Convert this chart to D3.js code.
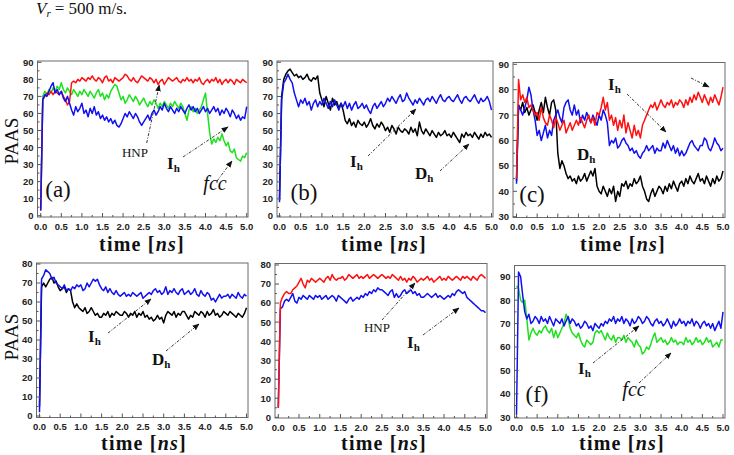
<!DOCTYPE html>
<html><head><meta charset="utf-8">
<script src="https://cdn.jsdelivr.net/npm/d3@7"></script>
<style>
html,body{margin:0;padding:0;background:#fff;}
svg{display:block;}
.serif{font-family:"Liberation Serif","DejaVu Serif",serif;}
.sans{font-family:"Liberation Sans","DejaVu Sans",sans-serif;}
</style></head>
<body>
<svg id="chart" width="734" height="455"></svg>
<script>
// ---------- DATA (sampled every 0.05 ns, t = 0 ... 5.0) ----------
const timeStep = 0.05;
const xTicks = [0,0.5,1,1.5,2,2.5,3,3.5,4,4.5,5];
const xTickLabels = ["0.0","0.5","1.0","1.5","2.0","2.5","3.0","3.5","4.0","4.5","5.0"];

// panel (a)
const aHNP = [3,68,70,72,71,73,71,73,72,71, 73,70,68,65,67,78,79,78,80,79, 81,80,79,81,80,82,80,79,81,80, 78,81,82,79,80,78,81,80,79,80, 81,83,82,80,79,81,79,78,80,82, 81,80,79,81,80,78,80,77,79,80, 77,79,81,80,79,80,81,79,78,80, 79,81,79,80,78,80,79,81,78,77, 79,80,78,80,79,81,78,80,77,79, 80,78,80,79,77,80,79,78,80,79, 78];
const aFcc = [5,70,73,71,74,72,75,73,76,74, 78,74,72,75,73,71,74,72,70,73, 71,74,72,70,73,71,69,72,74,70, 72,68,71,69,73,75,77,76,72,68, 70,66,68,71,69,67,70,68,65,67, 69,66,64,67,65,68,66,63,66,64, 67,65,63,66,64,67,65,63,66,64, 60,56,62,64,61,63,60,62,64,68, 72,60,49,42,45,43,46,44,48,44, 41,43,38,37,39,34,33,32,35,34, 37];
const aIh = [3,68,71,70,73,76,78,72,74,71, 73,69,67,70,66,62,59,64,61,63, 66,60,62,58,63,60,64,59,61,57, 59,56,58,55,57,54,56,53,52,54, 57,60,58,61,59,57,60,58,55,53, 55,57,59,56,60,62,59,61,64,62, 66,63,61,64,62,60,63,61,64,62, 60,63,65,62,64,61,63,60,62,64, 61,63,60,62,64,61,63,59,62,60, 63,61,58,62,60,57,59,56,58,57, 64];
// panel (b)
const bDh = [10,70,80,83,85,86,84,82,83,81, 82,80,81,83,80,79,81,80,82,72, 68,64,70,66,62,69,65,67,63,66, 62,56,54,57,53,55,52,56,54,53, 55,52,54,57,53,51,54,52,55,53, 50,52,49,53,51,48,52,50,49,51, 50,48,52,49,51,47,55,50,48,51, 49,47,50,48,46,49,47,48,50,47, 48,46,49,47,45,43,48,46,49,47, 48,46,49,47,45,48,46,49,47,48, 46];
const bIh = [8,68,78,80,83,80,78,72,68,64, 68,66,69,65,67,62,66,68,64,67, 65,69,66,63,67,64,68,65,62,66, 64,67,63,66,62,65,67,63,64,66, 63,65,62,60,64,66,63,65,67,64, 66,69,67,70,68,66,69,71,67,68, 72,69,67,65,68,66,69,67,65,68, 69,67,70,68,66,69,71,68,67,69, 70,68,67,69,71,68,66,69,70,68, 67,69,71,68,66,69,67,68,70,67, 62];
// panel (c)
const cHNP = [45,84,76,78,75,77,73,74,72,70, 71,68,73,69,67,66,70,68,65,69, 67,64,66,68,63,65,67,64,66,68, 66,69,67,65,68,70,67,69,66,71, 70,73,77,72,75,68,70,66,69,64, 68,65,70,63,67,64,61,66,62,64, 61,66,68,70,72,74,73,75,72,74, 76,74,73,75,74,76,73,75,74,76, 75,73,76,74,77,75,78,76,79,77, 75,78,76,74,77,75,78,76,74,77, 81];
const cIh = [43,74,72,70,73,76,81,78,72,68, 62,64,60,63,66,61,64,62,68,70, 72,69,67,73,75,76,72,70,74,70, 72,67,70,68,71,69,67,70,68,66, 70,68,72,70,67,58,60,59,61,57, 58,60,61,59,58,56,57,55,56,54, 53,55,56,58,56,57,58,55,57,56, 56,59,57,60,58,56,58,55,57,54, 56,54,55,57,59,60,58,57,56,58, 58,61,60,57,56,58,61,59,58,56, 57];
const cDh = [44,74,72,75,71,73,70,72,74,71, 68,72,75,71,77,73,70,75,76,72, 55,49,52,50,47,45,46,44,45,43, 46,44,45,47,44,46,48,46,49,42, 40,39,42,40,38,41,39,42,36,40, 38,43,42,44,41,43,42,45,43,44, 46,42,40,37,36,39,41,38,40,42, 41,39,42,40,43,41,44,42,40,43, 44,42,45,43,46,44,43,45,47,44, 45,43,46,44,42,45,43,46,44,45, 48];
// panel (d)
const dIh = [2,72,74,77,76,75,72,73,70,69, 68,67,69,66,67,66,68,67,69,68, 69,66,67,70,68,70,72,71,72,69, 67,66,68,65,67,65,64,66,64,63, 64,65,63,64,63,65,64,63,64,65, 62,63,64,65,64,66,67,65,66,64, 65,68,64,66,65,67,65,64,66,67, 64,65,66,64,65,67,64,63,66,64, 63,65,64,61,62,60,62,64,62,63, 63,64,62,64,63,62,65,63,62,64, 63];
const dDh = [5,68,70,68,70,72,73,70,71,68, 66,67,68,65,67,66,60,57,59,57, 56,55,57,54,55,57,55,53,54,52, 52,54,53,55,52,54,53,55,54,53, 53,55,54,52,54,53,55,52,54,53, 55,52,53,51,52,50,51,53,51,52, 49,53,55,54,53,55,52,54,53,55, 55,53,51,53,52,55,54,53,55,54, 52,55,53,54,56,53,54,52,53,55, 54,53,55,54,53,52,54,53,52,54, 57];
// panel (e)
const eHNP = [5,60,63,65,66,65,65,67,68,69, 71,73,70,68,72,71,73,72,71,72, 73,72,71,73,74,72,75,73,72,73, 73,74,72,73,75,74,73,74,75,73, 74,73,74,75,73,74,75,74,73,74, 75,74,73,74,73,75,74,73,72,74, 72,73,71,73,72,74,73,71,72,73, 72,73,74,72,73,71,72,73,74,72, 73,72,74,73,72,73,74,73,72,74, 73,74,73,72,74,73,72,74,75,74, 73];
const eIh = [5,57,58,61,62,61,63,65,61,60, 63,62,64,63,62,64,63,62,64,63, 64,62,63,64,62,63,64,63,61,64, 63,62,61,60,62,63,61,62,63,62, 64,63,65,64,66,65,67,66,68,67, 67,66,65,64,66,67,63,65,63,64, 66,67,65,66,67,65,66,64,65,63, 63,64,65,64,63,64,65,63,64,63, 62,63,64,63,65,64,66,67,66,65, 66,63,62,61,60,59,58,57,56,56, 55];
// panel (f)
const fIh = [31,92,90,82,75,72,74,70,71,73, 72,70,73,71,72,70,73,71,69,72, 71,70,72,69,71,73,70,72,71,69, 70,68,69,71,70,68,69,67,70,69, 68,70,69,71,70,72,71,73,70,72, 71,73,70,72,71,69,72,70,71,73, 72,70,71,73,72,70,69,71,72,70, 71,69,70,72,70,68,71,69,70,72, 70,71,69,71,70,72,69,71,70,68, 70,71,69,70,68,70,67,69,71,68, 75];
const fFcc = [86,85,80,79,80,72,63,66,68,66, 65,67,66,68,69,67,66,68,64,67, 64,66,68,70,74,72,68,66,65,64, 66,63,61,60,63,62,61,62,66,67, 66,67,65,63,66,64,63,65,62,64, 64,63,65,62,64,63,62,60,63,61, 60,57,58,60,59,61,64,66,62,63, 64,62,63,61,62,64,62,63,61,62, 62,61,64,62,63,61,62,64,62,63, 61,62,64,62,63,60,61,62,60,63, 63];

const ticks90 = [0,10,20,30,40,50,60,70,80,90];
const ticks80 = [0,10,20,30,40,50,60,70,80];
const ticks30_90 = [30,40,50,60,70,80,90];

const RED = "#ff1010", GREEN = "#1ee01e", BLUE = "#1010f0", BLACK = "#000000";

// ---------- LAYOUT ----------
const panels = [
  {frame:[37.5,248,61,217], xr:[40.7,246.7], yd:[0,90], yr:[215.7,62.3], yt:ticks90,
   series:[[aFcc,GREEN],[aHNP,RED],[aIh,BLUE]], tag:"(a)", tagPos:[58,197], xlab:[142,251], ylab:[12,141]},
  {frame:[277,493,61,217], xr:[279.5,491.5], yd:[0,90], yr:[216,62.3], yt:ticks90,
   series:[[bDh,BLACK],[bIh,BLUE]], tag:"(b)", tagPos:[304,200], xlab:[384,251]},
  {frame:[513,725,62.5,217.5], xr:[516.5,723], yd:[30,90], yr:[216.7,64.3], yt:ticks30_90,
   series:[[cDh,BLACK],[cIh,BLUE],[cHNP,RED]], tag:"(c)", tagPos:[532,202], xlab:[623,251]},
  {frame:[36.5,248,263,417.5], xr:[39.5,246.5], yd:[0,80], yr:[416,264], yt:ticks80,
   series:[[dDh,BLACK],[dIh,BLUE]], xlab:[144,450], ylab:[12,337]},
  {frame:[275,487,263.5,418], xr:[278.3,485.5], yd:[0,80], yr:[417.3,265], yt:ticks80,
   series:[[eIh,BLUE],[eHNP,RED]], xlab:[384,450]},
  {frame:[514.5,725,265.5,418], xr:[516.5,723], yd:[30,90], yr:[417.3,276.7], yt:ticks30_90,
   series:[[fFcc,GREEN],[fIh,BLUE]], tag:"(f)", tagPos:[537,402], xlab:[622,450]}
];

const svg = d3.select("#chart");
const defs = svg.append("defs");
defs.append("marker").attr("id","ah").attr("viewBox","0 0 10 10").attr("refX",9).attr("refY",5)
  .attr("markerWidth",7).attr("markerHeight",7).attr("orient","auto-start-reverse")
  .attr("markerUnits","userSpaceOnUse")
  .append("path").attr("d","M0,1 L10,5 L0,9 Z").attr("fill","#111");

// top caption
const cap = svg.append("text").attr("class","serif").attr("x",36).attr("y",14).style("font-size","17px").attr("fill","#111");
cap.append("tspan").style("font-style","italic").text("V");
cap.append("tspan").style("font-style","italic").style("font-size","11px").attr("dy",3).text("r");
cap.append("tspan").attr("dy",-3).attr("dx",4).text("= 500 m/s.");

panels.forEach((p,i) => {
  const [l,r,t,b] = p.frame;
  const x = d3.scaleLinear().domain([0,5]).range(p.xr);
  const y = d3.scaleLinear().domain(p.yd).range(p.yr);
  const g = svg.append("g");
  const clipId = "clip"+i;
  defs.append("clipPath").attr("id",clipId).append("rect").attr("x",l).attr("y",t).attr("width",r-l).attr("height",b-t);

  const line = d3.line().x((d,j)=>x(j*timeStep)).y(d=>y(d));
  p.series.forEach(([vals,col]) => {
    g.append("path").datum(vals).attr("d",line).attr("fill","none").attr("stroke",col)
      .attr("stroke-width",1.5).attr("stroke-linejoin","round").attr("clip-path",`url(#${clipId})`);
  });

  g.append("rect").attr("x",l).attr("y",t).attr("width",r-l).attr("height",b-t)
    .attr("fill","none").attr("stroke","#6a6a6a").attr("stroke-width",1);

  const ystep = p.yt[1]-p.yt[0];
  p.yt.forEach(v => {
    const yy = y(v);
    g.append("line").attr("x1",l).attr("x2",l+4).attr("y1",yy).attr("y2",yy).attr("stroke","#555");
    if (v < p.yt[p.yt.length-1]) {
      const ym = y(v+ystep/2);
      g.append("line").attr("x1",l).attr("x2",l+2).attr("y1",ym).attr("y2",ym).attr("stroke","#555");
    }
    g.append("text").attr("class","sans").attr("x",l-4).attr("y",yy+3.4).attr("text-anchor","end")
      .style("font-weight","bold").style("font-size","9.5px").attr("fill","#222").text(v);
  });
  xTicks.forEach((v,k) => {
    const xx = x(v);
    g.append("line").attr("x1",xx).attr("x2",xx).attr("y1",b).attr("y2",b-4).attr("stroke","#555");
    if (k < xTicks.length-1) {
      const xm = x(v+0.25);
      g.append("line").attr("x1",xm).attr("x2",xm).attr("y1",b).attr("y2",b-2).attr("stroke","#555");
    }
    g.append("text").attr("class","sans").attr("x",xx).attr("y",b+12.5).attr("text-anchor","middle")
      .style("font-weight","bold").style("font-size","9.5px").attr("fill","#222").text(xTickLabels[k]);
  });

  const xl = g.append("text").attr("class","serif").attr("x",p.xlab[0]).attr("y",p.xlab[1]).attr("text-anchor","middle")
    .style("font-weight","bold").style("font-size","20px").style("letter-spacing","1.2px").attr("fill","#111");
  xl.append("tspan").text("time [");
  xl.append("tspan").style("font-style","italic").text("ns");
  xl.append("tspan").text("]");

  if (p.ylab) {
    g.append("text").attr("class","serif").attr("transform",`translate(${p.ylab[0]+6},${p.ylab[1]}) rotate(-90)`)
      .attr("text-anchor","middle").style("font-size","19px").attr("fill","#111").text("PAAS");
  }
  if (p.tag) {
    g.append("text").attr("class","serif").attr("x",p.tagPos[0]).attr("y",p.tagPos[1]).attr("text-anchor","middle")
      .style("font-size","23px").attr("fill","#111").text(p.tag);
  }
});

function arrow(x1,y1,x2,y2){
  svg.append("line").attr("x1",x1).attr("y1",y1).attr("x2",x2).attr("y2",y2)
    .attr("stroke","#222").attr("stroke-width",0.9).attr("stroke-dasharray","3,1.5,1,1.5")
    .attr("marker-end","url(#ah)");
}
function sub(xp,yp,main,s){
  const t = svg.append("text").attr("class","serif").attr("x",xp).attr("y",yp)
    .style("font-weight","bold").style("font-size","17px").attr("fill","#111");
  t.append("tspan").text(main);
  t.append("tspan").style("font-size","11px").attr("dy",3).text(s);
}
function plain(xp,yp,txt,size,italic){
  svg.append("text").attr("class","serif").attr("x",xp).attr("y",yp).attr("text-anchor","middle")
    .style("font-size",size+"px").style("font-style",italic?"italic":"normal").attr("fill","#111").text(txt);
}
// (a)
plain(135,157,"HNP",13,false); arrow(146.7,143,159.3,85);
sub(167,169,"I","h"); arrow(183,157,228,127);
plain(215,190,"fcc",20,true); arrow(217,181,232,161);
// (b)
sub(350,167,"I","h"); arrow(368,156,416,109);
sub(415,179,"D","h"); arrow(440,171,469,144);
// (c)
sub(608,90,"I","h"); arrow(627,94,666,132);
arrow(691,78,709,87);
sub(577,160,"D","h");
// (d)
sub(88,342,"I","h"); arrow(108,333,151,299);
sub(152,365,"D","h"); arrow(166,351,199,324);
// (e)
plain(377,332,"HNP",13,false); arrow(382,320,415,283);
sub(407,348,"I","h"); arrow(423,335,459,308);
// (f)
sub(578,374,"I","h"); arrow(593,363,639,326);
plain(634,396,"fcc",20,true); arrow(639,383,671,353);
</script>
</body></html>
